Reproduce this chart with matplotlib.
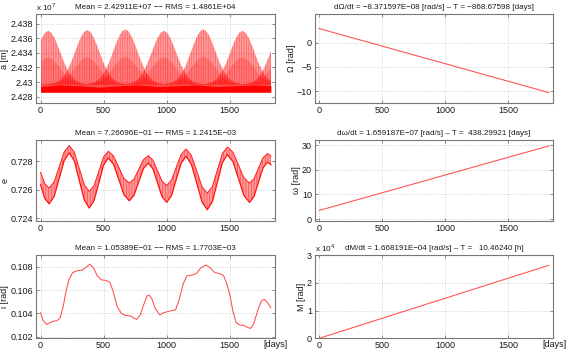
import numpy as np
import matplotlib
matplotlib.use('Agg')
import matplotlib.pyplot as plt
from matplotlib.patches import Rectangle
from matplotlib.ticker import FuncFormatter, FixedLocator

plt.rcParams['font.family'] = ['Liberation Sans', 'DejaVu Sans']
plt.rcParams['mathtext.fontset'] = 'custom'
plt.rcParams['mathtext.rm'] = 'Liberation Sans'
plt.rcParams['axes.unicode_minus'] = True
plt.rcParams['hatch.linewidth'] = 0.6

# ---------------- data ----------------
days_end = 1826
x_ticks = [0, 500, 1000, 1500]

# semi-major axis a (units of 1e7 m): envelope lobes
a_peak_days = [60, 370, 672, 978, 1290, 1600, 1920]
a_peak_vals = [2.4370, 2.4371, 2.4372, 2.4370, 2.4372, 2.4370, 2.4371]
a_lobe_base = 2.4297
a_lobe_dist = [0, 25, 50, 75, 100, 125, 150, 175, 200, 225, 250, 275, 300]
a_lobe_shape = [1.0, 0.966, 0.870, 0.732, 0.576, 0.421, 0.288, 0.182, 0.109, 0.061, 0.031, 0.015, 0.007]
a_inner_scale = 0.5
a_floor = 2.4286
a_band_days = [0, 155, 310, 465, 620, 775, 930, 1085, 1240, 1395, 1550, 1705, 1826]
a_band_top = [2.4294, 2.4296, 2.4295, 2.4293, 2.4295, 2.4296, 2.4294, 2.4295, 2.4296, 2.4294, 2.4295, 2.4296, 2.4295]
a_yticks = [2.428, 2.430, 2.432, 2.434, 2.436, 2.438]

# eccentricity band (upper / lower envelope)
e_days = [0, 34, 68, 108, 148, 188, 228, 268, 307, 347, 386, 424, 462, 499, 537,
          578, 620, 661, 703, 741, 778, 816, 854, 890, 927, 963, 1000, 1038, 1076,
          1115, 1153, 1195, 1238, 1280, 1322, 1362, 1402, 1441, 1481, 1525, 1569,
          1612, 1656, 1692, 1727, 1763, 1798, 1812, 1826]
e_top = [0.72722, 0.72643, 0.72612, 0.72656, 0.72762, 0.72867, 0.72911, 0.72864,
         0.72750, 0.72635, 0.72588, 0.72629, 0.72730, 0.72830, 0.72871, 0.72838,
         0.72759, 0.72680, 0.72647, 0.72675, 0.72744, 0.72812, 0.72840, 0.72809,
         0.72735, 0.72661, 0.72630, 0.72668, 0.72759, 0.72849, 0.72887, 0.72842,
         0.72732, 0.72621, 0.72576, 0.72623, 0.72739, 0.72854, 0.72901, 0.72864,
         0.72774, 0.72684, 0.72647, 0.72677, 0.72751, 0.72824, 0.72854, 0.72848,
         0.72835]
e_bot = [0.72635, 0.72538, 0.72501, 0.72553, 0.72680, 0.72807, 0.72859, 0.72802,
         0.72665, 0.72528, 0.72471, 0.72523, 0.72648, 0.72772, 0.72824, 0.72780,
         0.72673, 0.72566, 0.72522, 0.72561, 0.72655, 0.72749, 0.72788, 0.72748,
         0.72650, 0.72551, 0.72511, 0.72558, 0.72673, 0.72788, 0.72835, 0.72780,
         0.72647, 0.72514, 0.72459, 0.72516, 0.72653, 0.72790, 0.72847, 0.72798,
         0.72679, 0.72560, 0.72511, 0.72552, 0.72652, 0.72752, 0.72793, 0.72787,
         0.72776]
e_yticks = [0.724, 0.726, 0.728]

# inclination i [rad]
i_days = [0, 20, 48, 75, 100, 130, 155, 180, 200, 225, 255, 290, 330, 360, 390,
          420, 450, 480, 520, 550, 575, 607, 640, 673, 713, 740, 761, 790, 820,
          845, 860, 880, 910, 945, 975, 1010, 1070, 1100, 1130, 1160, 1200, 1235,
          1270, 1312, 1345, 1380, 1420, 1450, 1475, 1500, 1525, 1550, 1580, 1615,
          1640, 1665, 1690, 1720, 1750, 1773, 1800, 1826]
i_vals = [0.10405, 0.10340, 0.10305, 0.10320, 0.10333, 0.10336, 0.10360, 0.10460,
          0.10580, 0.10690, 0.10750, 0.10765, 0.10770, 0.10795, 0.10821, 0.10790,
          0.10720, 0.10688, 0.10682, 0.10665, 0.10590, 0.10460, 0.10400, 0.10383,
          0.10377, 0.10360, 0.10348, 0.10385, 0.10480, 0.10550, 0.10557, 0.10530,
          0.10440, 0.10386, 0.10405, 0.10416, 0.10430, 0.10520, 0.10650, 0.10722,
          0.10728, 0.10740, 0.10790, 0.10814, 0.10790, 0.10750, 0.10740, 0.10725,
          0.10660, 0.10560, 0.10420, 0.10320, 0.10300, 0.10295, 0.10280, 0.10271,
          0.10310, 0.10420, 0.10505, 0.10520, 0.10490, 0.10448]
i_yticks = [0.102, 0.104, 0.106, 0.108]

# linear drifts
raan_days = [0, 1826]
raan_vals = [2.9, -10.3]
raan_yticks = [-10, -5, 0]
argp_days = [0, 1826]
argp_vals = [3.5, 29.8]
argp_yticks = [0, 10, 20, 30]
M_days = [0, 1826]
M_vals = [0.0, 2.63]          # units of 1e4 rad
M_yticks = [0, 1, 2, 3]

titles = {
    'a': 'Mean = 2.42911E+07 \u2212\u2212 RMS = 1.4861E+04',
    'e': 'Mean = 7.26696E\u221201 \u2212\u2212 RMS = 1.2415E\u221203',
    'i': 'Mean = 1.05389E\u221201 \u2212\u2212 RMS = 1.7703E\u221203',
    'raan': 'd\u03a9/dt = \u22128.371597E\u221208 [rad/s] \u2013 T = \u2212868.67598 [days]',
    'argp': 'd\u03c9/dt = 1.659187E\u221207 [rad/s] \u2013 T =  438.29921 [days]',
    'M': 'dM/dt = 1.668191E\u221204 [rad/s] \u2013 T =   10.46240 [h]',
}

# ---------------- style ----------------
FS = 6.5
TFS = 5.8
MFS = 5.9
SPINE = '#777777'
LINE = '#ff4d4d'
TXT = '#1a1a1a'
XLIM = (-36, 1861)

fig = plt.figure(figsize=(5.68, 3.50), dpi=100)

Lx, Lw = 0.0634, 0.4213
Rx, Rw = 0.5540, 0.4201
rows = [(0.7049, 0.2551), (0.3686, 0.2314), (0.0334, 0.2380)]


def style(ax, yticks, ylim, title, ylabel):
    ax.set_xlim(*XLIM)
    ax.set_ylim(*ylim)
    ax.xaxis.set_major_locator(FixedLocator(x_ticks))
    ax.yaxis.set_major_locator(FixedLocator(yticks))
    fmt = FuncFormatter(lambda v, p: ('%g' % round(v, 6)).replace('-', '\u2212'))
    ax.xaxis.set_major_formatter(fmt)
    ax.yaxis.set_major_formatter(fmt)
    ax.tick_params(direction='in', length=2.2, width=0.6, color=SPINE,
                   labelsize=FS, pad=2, top=True, right=True, labelcolor=TXT)
    for s in ax.spines.values():
        s.set_color(SPINE)
        s.set_linewidth(0.8)
    ax.grid(True, linestyle=(0, (1, 2.2)), color='#b0b0b0', linewidth=0.5)
    ax.set_axisbelow(True)
    ax.set_title(title, fontsize=TFS, pad=3.5, color=TXT)
    ax.set_ylabel(ylabel, fontsize=FS, labelpad=0.8, color=TXT)


def clip_rect(ax, ylim):
    return Rectangle((0, ylim[0]), days_end, ylim[1] - ylim[0], transform=ax.transData)


# ---- a ----
ax = fig.add_axes([Lx, rows[0][0], Lw, rows[0][1]])
a_ylim = (2.4271, 2.4393)
dist = np.array(a_lobe_dist, dtype=float)
shape = np.array(a_lobe_shape)
xs_rel = np.concatenate([-dist[::-1], dist[1:]])
sh = np.concatenate([shape[::-1], shape[1:]])
for pd_, pv in zip(a_peak_days, a_peak_vals):
    xs = pd_ + xs_rel
    h = (pv - a_lobe_base)
    f1 = ax.fill_between(xs, a_lobe_base, a_lobe_base + h * sh, facecolor=(1, 0, 0, 0.38),
                         edgecolor=(1, 0, 0, 0.35), hatch='|||||||', lw=0)
    f1.set_clip_path(clip_rect(ax, a_ylim))
    f2 = ax.fill_between(xs, a_lobe_base, a_lobe_base + a_inner_scale * h * sh,
                         facecolor=(1, 0, 0, 0.22), lw=0)
    f2.set_clip_path(clip_rect(ax, a_ylim))
ax.fill_between(a_band_days, a_floor, [a_lobe_base + 0.0001] * len(a_band_days),
                color='#ff0000', alpha=0.7, lw=0)
ax.fill_between(a_band_days, a_floor, a_band_top, color='#ff0000', lw=0)
style(ax, a_yticks, a_ylim, titles['a'], 'a [m]')
ax.text(0.0, 1.012, r'x 10$^{\mathrm{7}}$', transform=ax.transAxes, fontsize=MFS,
        ha='left', va='bottom', color=TXT)

# ---- e ----
ax = fig.add_axes([Lx, rows[1][0], Lw, rows[1][1]])
ax.fill_between(e_days, e_bot, e_top, facecolor=(1, 0.6, 0.6), edgecolor=(1, 0, 0, 0.42),
                hatch='||||||', lw=0)
ax.plot(e_days, e_top, color='#ff2020', lw=0.7)
ax.plot(e_days, e_bot, color='#ff1010', lw=0.9)
style(ax, e_yticks, (0.7238, 0.7295), titles['e'], 'e')

# ---- i ----
ax = fig.add_axes([Lx, rows[2][0], Lw, rows[2][1]])
ax.plot(i_days, i_vals, color=LINE, lw=0.75)
style(ax, i_yticks, (0.10186, 0.1090), titles['i'], 'i [rad]')
ax.text(0.95, -0.075, '[days]', transform=ax.transAxes, fontsize=FS,
        ha='left', va='center', color=TXT)

# ---- RAAN ----
ax = fig.add_axes([Rx, rows[0][0], Rw, rows[0][1]])
ax.plot(raan_days, raan_vals, color=LINE, lw=0.75)
style(ax, raan_yticks, (-12.5, 5.9), titles['raan'], '\u03a9 [rad]')

# ---- arg of perigee ----
ax = fig.add_axes([Rx, rows[1][0], Rw, rows[1][1]])
ax.plot(argp_days, argp_vals, color=LINE, lw=0.75)
style(ax, argp_yticks, (-0.8, 32.2), titles['argp'], '\u03c9 [rad]')

# ---- M ----
ax = fig.add_axes([Rx, rows[2][0], Rw, rows[2][1]])
ax.plot(M_days, M_vals, color=LINE, lw=0.75)
style(ax, M_yticks, (0, 3), titles['M'], 'M [rad]')
ax.text(0.0, 1.012, r'x 10$^{\mathrm{4}}$', transform=ax.transAxes, fontsize=MFS,
        ha='left', va='bottom', color=TXT)
ax.text(0.953, -0.075, '[days]', transform=ax.transAxes, fontsize=FS,
        ha='left', va='center', color=TXT)

fig.savefig('out.png', dpi=100)
